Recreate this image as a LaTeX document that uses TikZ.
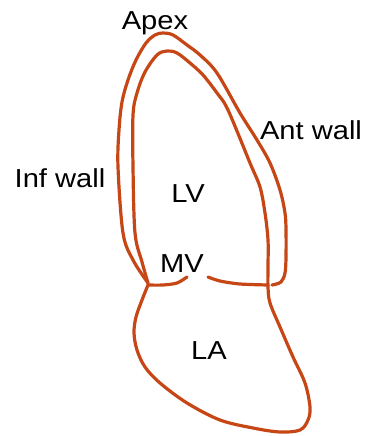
\documentclass[tikz,border=0pt]{standalone}
\usepackage{fontspec}
\setsansfont[FakeStretch=1.12]{Liberation Sans}
\definecolor{wallred}{RGB}{198,70,22}
\tikzset{
	wall/.style={draw=wallred, line width=3.2pt, line cap=round, line join=round},
	lbl/.style={anchor=base, inner sep=0pt, font=\sffamily\fontsize{26}{30}\selectfont}
}
\begin{document}
\begin{tikzpicture}[x=1pt, y=-1pt]
	\useasboundingbox (0,0) rectangle (365,436);
	%outer wall of the ventricle
	\draw[wall] plot[smooth, tension=0.55] coordinates{(148,283)
		(133,260) (123,233) (118,167) (119,130) (122,102) (128,80)
		(136,60) (146,43) (155,35) (163,33) (173,35) (187,45) (200,55)
		(217,73) (240,113) (257,140) (270,163) (280,190) (285,213)
		(286,230) (286,257) (285,273) (281,282) (272,285)};
	%inner wall, runs on into the right side of the atrium
	\draw[wall] plot[smooth, tension=0.55] coordinates{(148,283)
		(142,262) (135,233) (133,167) (133,115) (137,93) (145,72)
		(157,55) (167,51) (177,53) (190,63) (203,75) (217,93)
		(228,110) (250,163) (260,187) (265,213) (268,240) (268,267)
		(268,287) (270,303) (280,327) (293,357) (305,383) (310,407)
		(308,420) (300,430) (280,432) (253,428) (220,420) (187,403)
		(160,383) (145,367) (137,350) (134,333) (136,317) (142,300)
		(148,285)};
	%valve leaflets
	\draw[wall] plot[smooth] coordinates{(148,285) (163,285) (177,283) (187,277)};
	\draw[wall] plot[smooth] coordinates{(208,277) (220,281) (240,284) (268,285)};
	%labels
	\node[lbl] (apex) at (155,30) {Apex};
	\node[lbl] (infwall) at (60,187) {Inf wall};
	\node[lbl] (antwall) at (311,139) {Ant wall};
	\node[lbl] (lv) at (188,202) {LV};
	\node[lbl] (mv) at (182,272) {MV};
	\node[lbl] (la) at (209,359) {LA};
\end{tikzpicture}
\end{document}
